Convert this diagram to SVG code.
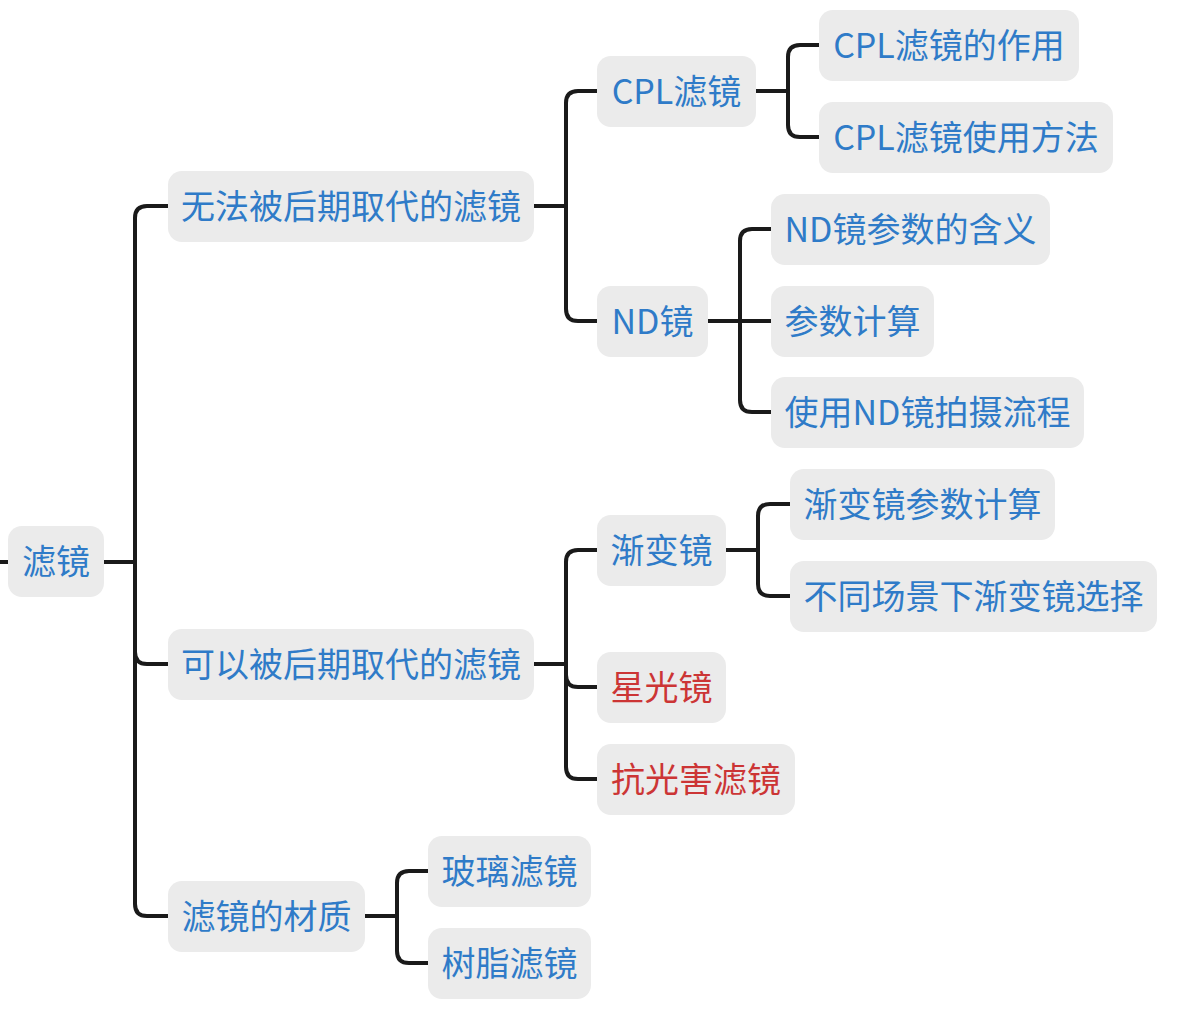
<svg xmlns="http://www.w3.org/2000/svg" width="1180" height="1014" viewBox="0 0 1180 1014">
<style>
.box{fill:#ebebeb}
.t{font-family:"Noto Sans CJK SC","Noto Sans",sans-serif;font-size:34px;fill:#2f7bc8;text-anchor:middle}
.r{fill:#cc3535}
.c{fill:none;stroke:#1a1a1a;stroke-width:4}
</style>
<rect width="1180" height="1014" fill="#ffffff"/>
<g id="connectors">
<path class="c" d="M0,562 H8"/>
<path class="c" d="M104,562 H135"/>
<path class="c" d="M135,562 V218 Q135,206 147,206 H168"/>
<path class="c" d="M135,562 V652 Q135,664 147,664 H168"/>
<path class="c" d="M135,562 V904 Q135,916 147,916 H168"/>
<path class="c" d="M534,206 H566"/>
<path class="c" d="M566,206 V103 Q566,91 578,91 H597"/>
<path class="c" d="M566,206 V309 Q566,321 578,321 H597"/>
<path class="c" d="M756,91 H788"/>
<path class="c" d="M788,91 V57 Q788,45 800,45 H819"/>
<path class="c" d="M788,91 V125 Q788,137 800,137 H819"/>
<path class="c" d="M708,321 H740"/>
<path class="c" d="M740,321 V241 Q740,229 752,229 H771"/>
<path class="c" d="M740,321 H771"/>
<path class="c" d="M740,321 V400 Q740,412 752,412 H771"/>
<path class="c" d="M534,664 H566"/>
<path class="c" d="M566,664 V562 Q566,550 578,550 H597"/>
<path class="c" d="M566,664 V675 Q566,687 578,687 H597"/>
<path class="c" d="M566,664 V767 Q566,779 578,779 H597"/>
<path class="c" d="M726,550 H758"/>
<path class="c" d="M758,550 V516 Q758,504 770,504 H790"/>
<path class="c" d="M758,550 V584 Q758,596 770,596 H790"/>
<path class="c" d="M365,916 H397"/>
<path class="c" d="M397,916 V883 Q397,871 409,871 H428"/>
<path class="c" d="M397,916 V951 Q397,963 409,963 H428"/>
</g>
<g id="root"><rect class="box" x="8" y="526" width="96" height="71" rx="14"/><text class="t" x="56" y="574">滤镜</text></g>
<g id="n1"><rect class="box" x="168" y="171" width="366" height="71" rx="14"/><text class="t" x="351" y="219">无法被后期取代的滤镜</text></g>
<g id="n2"><rect class="box" x="168" y="629" width="366" height="71" rx="14"/><text class="t" x="351" y="677">可以被后期取代的滤镜</text></g>
<g id="n3"><rect class="box" x="168" y="881" width="197" height="71" rx="14"/><text class="t" x="266.5" y="929">滤镜的材质</text></g>
<g id="cpl"><rect class="box" x="597" y="56" width="159" height="71" rx="14"/><text class="t" x="676.5" y="104">CPL滤镜</text></g>
<g id="nd"><rect class="box" x="597" y="286" width="111" height="71" rx="14"/><text class="t" x="652.5" y="334">ND镜</text></g>
<g id="cpl1"><rect class="box" x="819" y="10" width="260" height="71" rx="14"/><text class="t" x="949" y="58">CPL滤镜的作用</text></g>
<g id="cpl2"><rect class="box" x="819" y="102" width="294" height="71" rx="14"/><text class="t" x="966" y="150">CPL滤镜使用方法</text></g>
<g id="nd1"><rect class="box" x="771" y="194" width="279" height="71" rx="14"/><text class="t" x="910.5" y="242">ND镜参数的含义</text></g>
<g id="nd2"><rect class="box" x="771" y="286" width="163" height="71" rx="14"/><text class="t" x="852.5" y="334">参数计算</text></g>
<g id="nd3"><rect class="box" x="771" y="377" width="313" height="71" rx="14"/><text class="t" x="927.5" y="425">使用ND镜拍摄流程</text></g>
<g id="grad"><rect class="box" x="597" y="515" width="129" height="71" rx="14"/><text class="t" x="661.5" y="563">渐变镜</text></g>
<g id="star"><rect class="box" x="597" y="652" width="129" height="71" rx="14"/><text class="t r" x="661.5" y="700">星光镜</text></g>
<g id="anti"><rect class="box" x="597" y="744" width="198" height="71" rx="14"/><text class="t r" x="696" y="792">抗光害滤镜</text></g>
<g id="grad1"><rect class="box" x="790" y="469" width="265" height="71" rx="14"/><text class="t" x="922.5" y="517">渐变镜参数计算</text></g>
<g id="grad2"><rect class="box" x="790" y="561" width="367" height="71" rx="14"/><text class="t" x="973.5" y="609">不同场景下渐变镜选择</text></g>
<g id="glass"><rect class="box" x="428" y="836" width="163" height="71" rx="14"/><text class="t" x="509.5" y="884">玻璃滤镜</text></g>
<g id="resin"><rect class="box" x="428" y="928" width="163" height="71" rx="14"/><text class="t" x="509.5" y="976">树脂滤镜</text></g>
</svg>
